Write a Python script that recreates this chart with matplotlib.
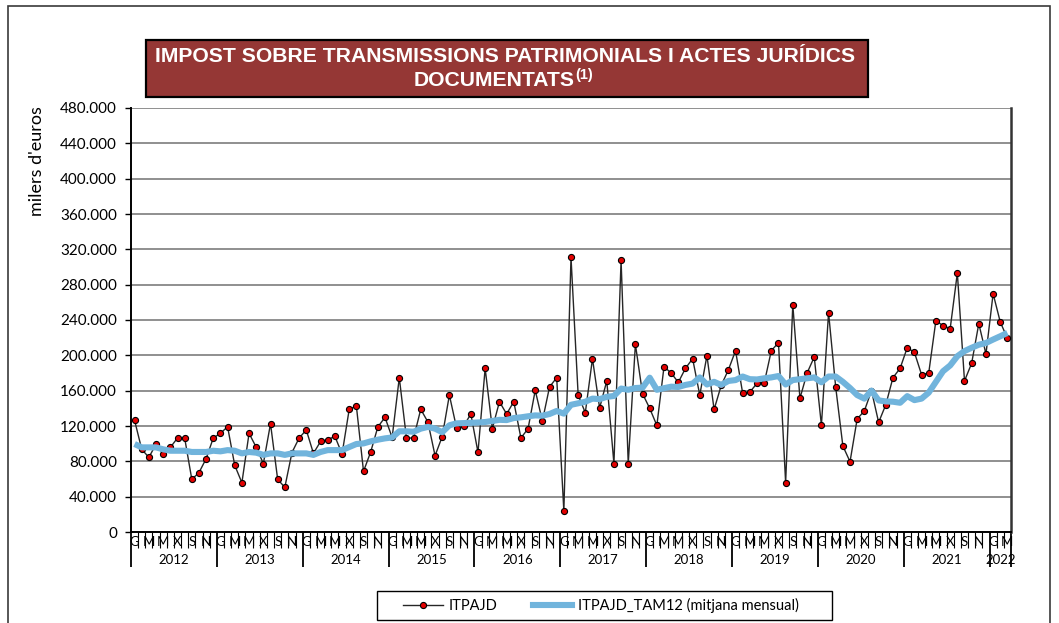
import matplotlib
matplotlib.use('Agg')
import matplotlib.pyplot as plt
from matplotlib.patches import Rectangle
from matplotlib.lines import Line2D
from matplotlib.ticker import FuncFormatter, FixedLocator
import numpy as np

W, H, DPI = 1059, 623, 100

# Monthly series, Jan 2012 - Mar 2022 (thousands of euros)
years = list(range(2012, 2023))
month_letters = ['G', 'M', 'M', 'X', 'S', 'N']  # labels shown every second month

itpajd = [
    126400, 93600, 84500, 99500, 88300, 95800, 106400, 106400, 59600, 67200, 83000, 106400,
    111700, 119200, 75500, 55800, 111700, 96000, 77400, 122600, 59600, 50600, 90000, 106400,
    115500, 89000, 102600, 104500, 108300, 88300, 138900, 142600, 68700, 90600, 118900, 129800,
    107000, 174700, 106400, 106400, 138900, 124500, 86400, 108000, 155000, 118000, 120000, 133600,
    90200, 185300, 117000, 147500, 133600, 147500, 106400, 117000, 160400, 125700, 164200, 174700,
    23800, 311000, 155000, 135000, 196200, 140400, 171000, 77400, 307500, 77400, 212500, 156600,
    140000, 120600, 187100, 180000, 169400, 185300, 196200, 155000, 199600, 138700, 166000, 183600,
    205300, 156800, 158500, 168300, 168300, 205300, 214300, 55800, 257400, 151300, 180000, 198100,
    120800, 248300, 163800, 97400, 79600, 128000, 137000, 160000, 124100, 144100, 174700, 185300,
    208700, 203400, 178100, 180000, 239200, 233600, 230200, 293200, 171000, 191000, 235900, 201500,
    269800, 237700, 219200,
]

tam12 = [
    99600, 95800, 95800, 95800, 93600, 92000, 92000, 92000, 90600, 90600, 90600, 92000,
    91300, 92700, 92000, 89000, 90600, 89800, 87300, 89000, 89000, 87300, 89000, 89000,
    89000, 87300, 90600, 92700, 92700, 92700, 96200, 99600, 100300, 102600, 104500, 106000,
    107000, 114000, 114000, 113500, 117000, 119000, 117000, 113000, 120800, 123000, 123300, 123600,
    124000, 124500, 125700, 127000, 126700, 129000, 129800, 131000, 132000, 131700, 133600, 137000,
    134000, 144000, 145700, 147500, 151000, 150400, 153000, 154000, 162400, 161000, 163000, 163400,
    174700, 161000, 162800, 164500, 164200, 166500, 168000, 175000, 167000, 170000, 166500, 171000,
    172000, 176000, 173000, 172700, 174000, 175000, 176600, 167000, 172000, 173000, 174000, 175000,
    169500, 176000, 176000, 170000, 163000, 155000, 151000, 160000, 149000, 147800, 147500, 146300,
    153800, 149300, 151000, 157800, 169900, 182000, 188600, 199000, 204800, 208600, 212000, 214000,
    217900, 221600, 225400,
]

title_line1 = 'IMPOST SOBRE TRANSMISSIONS PATRIMONIALS I ACTES JURÍDICS'
title_line2 = 'DOCUMENTATS'
title_note = '(1)'
y_label = "milers d'euros"
legend_labels = ['ITPAJD', 'ITPAJD_TAM12 (mitjana mensual)']

plt.rcParams['font.family'] = ['Lato', 'DejaVu Sans']

BLACK_LINE = '#262626'
DOT_RED = '#E30000'
TAM_BLUE = '#71B4DC'
GRID = '#878787'
TITLE_BG = '#953735'

fig = plt.figure(figsize=(W / DPI, H / DPI), dpi=DPI)
fig.patch.set_facecolor('white')

# outer frame
fig.add_artist(Rectangle((8 / W, -0.05), (1050 - 8) / W, 1.05 - 6 / H,
                         transform=fig.transFigure, fill=False,
                         edgecolor='#3a3a3a', lw=1.2))

ax = fig.add_axes([131 / W, 1 - 532 / H, 880 / W, 424 / H])
n = len(itpajd)
x = np.arange(n)

ax.plot(x, itpajd, color=BLACK_LINE, lw=1.0, marker='o', ms=4.4,
        mfc=DOT_RED, mec='black', mew=0.8, zorder=3)
ax.plot(x, tam12, color=TAM_BLUE, lw=4.4, solid_joinstyle='round',
        solid_capstyle='butt', zorder=4)

ax.set_xlim(-0.5, n - 0.5)
ax.set_ylim(0, 480000)
ax.set_yticks(np.arange(0, 480001, 40000))
ax.yaxis.set_major_formatter(
    FuncFormatter(lambda v, p: f'{int(v):,}'.replace(',', '.')))
ax.grid(axis='y', color=GRID, lw=1.3)
ax.set_axisbelow(True)

ax.spines['top'].set_visible(False)
ax.spines['left'].set_linewidth(1.4)
ax.spines['bottom'].set_linewidth(1.4)
ax.spines['right'].set_linewidth(1.8)
ax.spines['right'].set_color('#333333')

ax.tick_params(axis='y', which='major', length=4, width=1.0,
               labelsize=11, pad=6, colors='black')

# category axis: month boundaries (minor) and year boundaries (major)
year_starts = [12 * i for i in range(len(years))]
major_pos = [s - 0.5 for s in year_starts] + [n - 0.5]
minor_pos = [k - 0.5 for k in range(n + 1)]
ax.xaxis.set_major_locator(FixedLocator(major_pos))
ax.xaxis.set_minor_locator(FixedLocator(minor_pos))
ax.tick_params(axis='x', which='major', length=25, width=1.3, labelbottom=False)
ax.tick_params(axis='x', which='minor', length=11.5, width=0.8)

xt = ax.get_xaxis_transform()
for k in range(n):
    m = k % 12
    if m % 2 == 0:
        ax.text(k, -10 / 424, month_letters[m // 2], transform=xt,
                ha='center', va='center', fontsize=9.5, color='black')

for i, yr in enumerate(years):
    start = year_starts[i]
    end = min(start + 12, n)
    ax.text((start + end - 1) / 2, -28 / 424, str(yr), transform=xt,
            ha='center', va='center', fontsize=9.5, color='black')

# y-axis title
fig.text(37 / W, 1 - 106 / H, y_label, rotation=90, ha='center', va='top',
         fontsize=13)

# title box
fig.add_artist(Rectangle((146 / W, 1 - 97 / H), (868 - 146) / W, 57 / H,
                         transform=fig.transFigure, facecolor=TITLE_BG,
                         edgecolor='black', lw=1.6))
title_font = ['Liberation Sans Narrow', 'Liberation Sans', 'DejaVu Sans']
fig.text(505 / W, 1 - 56 / H, title_line1, ha='center', va='center',
         color='white', fontsize=15.2, fontweight='bold', family=title_font)
t2 = fig.text(494 / W, 1 - 80 / H, title_line2, ha='center', va='center',
              color='white', fontsize=15.2, fontweight='bold', family=title_font)
fig.canvas.draw()
bb = t2.get_window_extent()
fig.text((bb.x1 + 1) / W, (bb.y1 + 2) / H, title_note, ha='left', va='top',
         color='white', fontsize=10.5, fontweight='bold', family=title_font)

# legend: frame drawn as a separate box, entries laid out inside it
fig.add_artist(Rectangle((377 / W, 1 - 620 / H), (832 - 377) / W, 29 / H,
                         transform=fig.transFigure, facecolor='white',
                         edgecolor='black', lw=1.0))
handles = [
    Line2D([], [], color=BLACK_LINE, lw=1.0, marker='o', ms=4.4,
           mfc=DOT_RED, mec='black', mew=0.8),
    Line2D([], [], color=TAM_BLUE, lw=4.4),
]
leg = fig.legend(handles, legend_labels, loc='center',
                 bbox_to_anchor=(601 / W, 1 - 605.5 / H), ncol=2,
                 frameon=False, fontsize=10.5, handlelength=2.7,
                 columnspacing=2.4, handletextpad=0.4, borderpad=0.0,
                 numpoints=1)

fig.savefig('out.png', dpi=DPI, facecolor='white')
